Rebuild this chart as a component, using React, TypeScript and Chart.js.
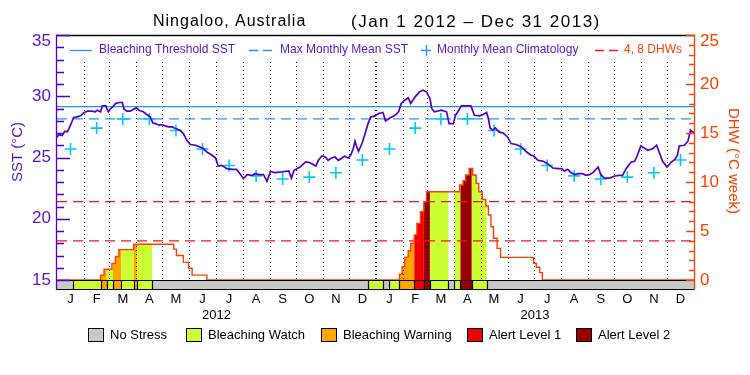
import React, { useEffect, useRef } from 'react';
import { Chart, registerables } from 'chart.js';

Chart.register(...registerables);

// ---------- DATA ----------
const TITLE_PLACE = 'Ningaloo, Australia';
const TITLE_RANGE = '(Jan 1 2012 – Dec 31 2013)';
const START_YEAR = 2012;
const YEAR_LABELS = ['2012', '2013'];
const MONTH_LABELS = ['J', 'F', 'M', 'A', 'M', 'J', 'J', 'A', 'S', 'O', 'N', 'D'];
const SST_TICKS = [15, 20, 25, 30, 35];
const DHW_TICKS = [0, 5, 10, 15, 20, 25];

// SST (day offset from Jan 1 2012, deg C)
const SST_DAY = [
  0, 2, 6, 9, 12, 14, 17, 19, 22, 27, 31, 35, 40, 44, 46, 50, 52, 56, 57, 59, 61, 64, 67, 71, 75, 77, 80, 84, 88, 91,
  94, 97, 99, 103, 107, 110, 113, 117, 120, 124, 128, 132, 136, 141, 145, 149, 153, 159, 164, 168, 172, 178, 182, 185,
  189, 195, 201, 206, 210, 214, 218, 224, 227, 232, 237, 241, 245, 250, 258, 266, 269, 272, 279, 285, 288, 292, 297,
  300, 304, 308, 311, 315, 319, 323, 327, 330, 334, 337, 340, 342, 344, 346, 350, 353, 357, 360, 365, 369, 374, 377,
  382, 388, 392, 395, 399, 403, 406, 411, 416, 420, 424, 428, 430, 433, 441, 447, 450, 455, 457, 460, 464, 470, 475,
  479, 485, 489, 493, 495, 497, 500, 503, 507, 512, 517, 521, 527, 533, 539, 544, 547, 552, 558, 563, 569, 575, 579,
  582, 586, 590, 594, 598, 603, 607, 611, 615, 621, 624, 628, 634, 640, 645, 649, 653, 659, 663, 666, 670, 674, 678,
  684, 688, 691, 695, 700, 705, 709, 712, 714, 720, 724, 727, 729, 731,
];
const SST_VAL = [
  26.65, 26.87, 26.8, 27.14, 27.1, 27.4, 27.9, 28.27, 28.3, 28.4, 28.67, 28.78, 28.78, 28.73, 28.86, 28.73, 29.21, 29.21,
  29.0, 28.73, 28.94, 29.13, 29.4, 29.49, 29.49, 28.94, 28.78, 28.78, 28.94, 29.05, 28.86, 28.78, 28.73, 28.51, 28.31,
  27.82, 27.77, 27.64, 27.69, 27.58, 27.5, 27.5, 27.37, 27.23, 26.96, 26.4, 26.06, 26.0, 25.86, 25.73, 25.45, 25.18,
  24.96, 24.3, 24.36, 24.09, 24.03, 24.03, 23.68, 23.27, 23.6, 23.54, 23.68, 23.6, 23.6, 23.05, 23.87, 23.76, 23.82,
  23.9, 23.32, 23.95, 24.22, 24.63, 24.63, 24.5, 24.3, 24.77, 25.12, 25.04, 24.77, 24.96, 25.04, 24.77, 24.96, 25.1,
  24.96, 25.18, 25.73, 26.33, 25.86, 25.5, 26.14, 26.82, 27.77, 28.31, 28.4, 28.59, 28.67, 27.99, 28.23, 28.45, 28.73,
  29.41, 29.68, 29.87, 29.41, 29.95, 30.36, 30.5, 30.36, 29.82, 29.0, 28.73, 28.86, 28.73, 27.77, 27.77, 28.4, 28.73,
  29.21, 29.21, 29.21, 28.45, 28.4, 28.51, 28.67, 28.18, 27.41, 27.23, 27.41, 27.09, 27.0, 26.68, 26.14, 26.06, 25.86,
  25.45, 25.18, 25.12, 24.77, 24.69, 24.5, 24.14, 24.09, 24.09, 23.9, 24.03, 23.76, 23.6, 23.68, 23.68, 23.54, 23.6,
  23.76, 24.22, 23.6, 23.32, 23.32, 23.49, 23.54, 23.54, 24.09, 24.63, 24.69, 25.18, 25.94, 25.78, 25.59, 25.73, 26.0,
  25.45, 24.69, 24.22, 24.63, 24.85, 25.18, 25.94, 26.0, 26.33, 27.23, 27.09, 27.04,
];

// Monthly mean climatology (Jan..Dec)
const CLIM_MONTHLY = [25.7, 27.4, 28.15, 28.15, 27.2, 25.7, 24.35, 23.5, 23.25, 23.4, 23.75, 24.8];
const MMM = 28.15;
const BLEACHING_THRESHOLD = 29.15;

// Degree heating weeks (step series, each value holds until the next day)
const DHW_DAY = [
  0, 50, 54, 63, 67, 71, 88, 134, 137, 145, 151, 155, 172,
  393, 396, 399, 403, 406, 410, 413, 417, 421, 424, 462, 466, 469, 473, 477, 481, 484, 488, 492, 495, 498, 501, 505,
  509, 547, 550, 554, 557, 731,
];
const DHW_VAL = [
  0, 0.5, 1.1, 1.7, 2.4, 3.1, 3.65, 3.15, 2.5, 1.8, 1.2, 0.5, 0,
  0.58, 1.36, 2.31, 2.99, 3.74, 4.59, 5.78, 6.97, 7.99, 9.01, 9.69, 10.13, 10.71, 11.39, 10.71, 9.86, 9.01, 8.23, 7.55,
  6.63, 5.44, 4.26, 3.23, 2.31, 1.7, 1.3, 0.75, 0, 0,
];
const DHW_LEVELS = [4, 8];

// Stress level periods (start day, level 0..4)
const STRESS_START = [0, 18, 50, 57, 64, 74, 88, 92, 109, 357, 374, 381, 393, 410, 421, 428, 449, 456, 463, 476, 493];
const STRESS_LEVEL = [0, 1, 2, 1, 2, 1, 2, 1, 0, 1, 0, 1, 2, 3, 4, 1, 0, 1, 4, 1, 0];
const STRESS_NAMES = ['No Stress', 'Bleaching Watch', 'Bleaching Warning', 'Alert Level 1', 'Alert Level 2'];

// ---------- STYLE ----------
const FONT = '"Liberation Sans", Arial, sans-serif';
const STRESS_COLORS = ['#c8c8c8', '#ccff33', '#ffa500', '#f00000', '#990000'];
const PURPLE = '#5200c8';
const PURPLE_TEXT = '#5a14c8';
const BLUE = '#1e96ff';
const CYAN = '#00c8ff';
const ORANGE = '#ff4000';
const RED_DASH = '#f01818';

const dayOf = (y: number, m: number, d: number) =>
  Math.round((Date.UTC(y, m, d) - Date.UTC(START_YEAR, 0, 1)) / 86400000);
const TOTAL_DAYS = dayOf(START_YEAR + YEAR_LABELS.length, 0, 1);
const MONTH_STARTS: number[] = [];
for (let yi = 0; yi < YEAR_LABELS.length; yi++)
  for (let m = 0; m < 12; m++) MONTH_STARTS.push(dayOf(START_YEAR + yi, m, 1));
MONTH_STARTS.push(TOTAL_DAYS);

const SST_MIN = 14.184;
const SST_MAX = 35;
const DHW_MAX = 25;
const DHW_MIN = (SST_MIN - 15) * 1.25;

const setSpacing = (ctx: any, v: string) => {
  if ('letterSpacing' in ctx) ctx.letterSpacing = v;
};

const bleachPlugin = {
  id: 'bleach',
  beforeDatasetsDraw(chart: any) {
    const { ctx, chartArea: a, scales } = chart;
    const x = scales.x, yS = scales.yS, yD = scales.yD;
    const base = yD.getPixelForValue(0);
    // coloured fill under DHW by stress level
    for (let i = 0; i < STRESS_START.length; i++) {
      const lvl = STRESS_LEVEL[i];
      if (lvl === 0) continue;
      const end = i + 1 < STRESS_START.length ? STRESS_START[i + 1] : TOTAL_DAYS;
      const x0 = x.getPixelForValue(STRESS_START[i]);
      const x1 = x.getPixelForValue(end);
      ctx.save();
      ctx.beginPath();
      ctx.rect(x0, a.top, x1 - x0, base - a.top);
      ctx.clip();
      ctx.beginPath();
      ctx.moveTo(x.getPixelForValue(DHW_DAY[0]), base);
      for (let k = 0; k < DHW_DAY.length; k++) {
        const px = x.getPixelForValue(DHW_DAY[k]);
        if (k > 0) ctx.lineTo(px, yD.getPixelForValue(DHW_VAL[k - 1]));
        ctx.lineTo(px, yD.getPixelForValue(DHW_VAL[k]));
      }
      ctx.lineTo(x.getPixelForValue(DHW_DAY[DHW_DAY.length - 1]), base);
      ctx.closePath();
      ctx.fillStyle = STRESS_COLORS[lvl];
      ctx.fill();
      ctx.restore();
    }
    // dotted month separators
    ctx.save();
    ctx.strokeStyle = '#000';
    ctx.lineWidth = 1;
    ctx.setLineDash([1, 3]);
    const seps = MONTH_STARTS.slice(1, -1).concat([dayOf(START_YEAR, 11, 31)]);
    for (const d of seps) {
      const px = Math.round(x.getPixelForValue(d)) + 0.5;
      ctx.beginPath();
      ctx.moveTo(px, a.top + 27);
      ctx.lineTo(px, yS.getPixelForValue(15));
      ctx.stroke();
    }
    ctx.restore();
  },
  afterDatasetsDraw(chart: any) {
    const { ctx, chartArea: a, scales } = chart;
    const x = scales.x, yS = scales.yS, yD = scales.yD;
    const barTop = Math.round(yS.getPixelForValue(15));
    const barBot = Math.round(a.bottom);
    ctx.save();
    // stress bar
    for (let i = 0; i < STRESS_START.length; i++) {
      const end = i + 1 < STRESS_START.length ? STRESS_START[i + 1] : TOTAL_DAYS;
      const x0 = Math.round(x.getPixelForValue(STRESS_START[i]));
      const x1 = Math.round(x.getPixelForValue(end));
      ctx.fillStyle = STRESS_COLORS[STRESS_LEVEL[i]];
      ctx.fillRect(x0, barTop, x1 - x0, barBot - barTop);
    }
    ctx.strokeStyle = '#000';
    ctx.lineWidth = 1.2;
    ctx.beginPath();
    ctx.moveTo(a.left, barTop + 0.5);
    ctx.lineTo(a.right, barTop + 0.5);
    ctx.moveTo(a.left, barBot - 0.5);
    ctx.lineTo(a.right, barBot - 0.5);
    for (let i = 1; i < STRESS_START.length; i++) {
      const bx = Math.round(x.getPixelForValue(STRESS_START[i])) + 0.5;
      ctx.moveTo(bx, barTop);
      ctx.lineTo(bx, barBot);
    }
    ctx.stroke();

    // frame
    ctx.lineWidth = 1.3;
    ctx.strokeStyle = '#000';
    ctx.beginPath();
    ctx.moveTo(a.left - 1, a.top + 0.5);
    ctx.lineTo(a.right + 1, a.top + 0.5);
    ctx.stroke();
    // left axis
    ctx.strokeStyle = PURPLE;
    ctx.lineWidth = 1.3;
    ctx.beginPath();
    ctx.moveTo(a.left - 0.5, a.top);
    ctx.lineTo(a.left - 0.5, a.bottom);
    for (let v = 15; v <= 35; v++) {
      const py = Math.round(yS.getPixelForValue(v)) + 0.5;
      const len = v % 5 === 0 ? 13 : 7;
      ctx.moveTo(a.left - 0.5, py);
      ctx.lineTo(a.left + len, py);
    }
    ctx.stroke();
    // right axis
    ctx.strokeStyle = ORANGE;
    ctx.beginPath();
    ctx.moveTo(a.right + 0.5, a.top);
    ctx.lineTo(a.right + 0.5, a.bottom);
    for (let v = 0; v <= 25; v++) {
      const py = Math.round(yD.getPixelForValue(v)) + 0.5;
      const len = v % 5 === 0 ? 8 : 5;
      ctx.moveTo(a.right + 0.5, py);
      ctx.lineTo(a.right - len, py);
    }
    ctx.stroke();

    // tick labels
    ctx.font = `17px ${FONT}`;
    ctx.textBaseline = 'middle';
    ctx.fillStyle = PURPLE_TEXT;
    ctx.textAlign = 'right';
    for (const v of SST_TICKS) {
      const py = Math.max(yS.getPixelForValue(v), a.top + 6);
      ctx.fillText(String(v), a.left - 6, py);
    }
    ctx.fillStyle = ORANGE;
    ctx.textAlign = 'left';
    for (const v of DHW_TICKS) {
      const py = Math.max(yD.getPixelForValue(v), a.top + 6);
      ctx.fillText(String(v), a.right + 6, py);
    }
    // axis titles
    ctx.font = `15px ${FONT}`;
    ctx.textAlign = 'center';
    ctx.fillStyle = PURPLE_TEXT;
    ctx.save();
    ctx.translate(18, 152);
    ctx.rotate(-Math.PI / 2);
    ctx.fillText('SST (°C)', 0, 0);
    ctx.restore();
    ctx.fillStyle = ORANGE;
    ctx.save();
    ctx.translate(733, 161);
    ctx.rotate(Math.PI / 2);
    ctx.fillText('DHW (°C week)', 0, 0);
    ctx.restore();

    // month & year labels
    ctx.fillStyle = '#000';
    ctx.font = `13px ${FONT}`;
    for (let i = 0; i < MONTH_STARTS.length - 1; i++) {
      const mid = (MONTH_STARTS[i] + MONTH_STARTS[i + 1]) / 2;
      ctx.fillText(MONTH_LABELS[i % 12], x.getPixelForValue(mid), 299);
    }
    for (let yi = 0; yi < YEAR_LABELS.length; yi++) {
      const mid = (MONTH_STARTS[yi * 12] + MONTH_STARTS[yi * 12 + 12]) / 2;
      ctx.fillText(YEAR_LABELS[yi], x.getPixelForValue(mid), 315);
    }

    // title
    ctx.textAlign = 'left';
    ctx.font = `16px ${FONT}`;
    setSpacing(ctx, '1px');
    ctx.fillText(TITLE_PLACE, 153, 22);
    ctx.font = `17px ${FONT}`;
    setSpacing(ctx, '1.5px');
    ctx.fillText(TITLE_RANGE, 351, 22);
    setSpacing(ctx, '0px');

    // top legend
    const ly = 50;
    ctx.font = `12px ${FONT}`;
    ctx.lineWidth = 1.3;
    ctx.strokeStyle = BLUE;
    ctx.beginPath();
    ctx.moveTo(70, ly + 0.5);
    ctx.lineTo(92, ly + 0.5);
    ctx.stroke();
    ctx.fillStyle = PURPLE_TEXT;
    ctx.fillText('Bleaching Threshold SST', 99, ly);
    ctx.setLineDash([9, 5]);
    ctx.beginPath();
    ctx.moveTo(249, ly + 0.5);
    ctx.lineTo(274, ly + 0.5);
    ctx.stroke();
    ctx.fillText('Max Monthly Mean SST', 280, ly);
    ctx.setLineDash([]);
    ctx.strokeStyle = BLUE;
    ctx.beginPath();
    ctx.moveTo(421, ly + 0.5);
    ctx.lineTo(431, ly + 0.5);
    ctx.moveTo(426.5, ly - 5);
    ctx.lineTo(426.5, ly + 6);
    ctx.stroke();
    ctx.fillText('Monthly Mean Climatology', 437, ly);
    ctx.strokeStyle = RED_DASH;
    ctx.setLineDash([9, 5]);
    ctx.beginPath();
    ctx.moveTo(595, ly + 0.5);
    ctx.lineTo(619, ly + 0.5);
    ctx.stroke();
    ctx.setLineDash([]);
    ctx.fillStyle = ORANGE;
    ctx.fillText('4, 8 DHWs', 624, ly);

    // bottom legend
    const boxX = [88, 186, 321, 467, 576];
    ctx.font = `13px ${FONT}`;
    ctx.lineWidth = 1;
    ctx.strokeStyle = '#000';
    for (let i = 0; i < STRESS_NAMES.length; i++) {
      ctx.fillStyle = STRESS_COLORS[i];
      ctx.fillRect(boxX[i], 328, 16, 14);
      ctx.strokeRect(boxX[i] + 0.5, 328.5, 15, 13);
      ctx.fillStyle = '#000';
      ctx.fillText(STRESS_NAMES[i], boxX[i] + 22, 335);
    }
    ctx.restore();
  },
};

export default function App() {
  const ref = useRef<HTMLCanvasElement | null>(null);
  useEffect(() => {
    if (!ref.current) return;
    const pts = (xs: number[], ys: number[]) => xs.map((d, i) => ({ x: d, y: ys[i] }));
    const climPts: { x: number; y: number }[] = [];
    for (let i = 0; i < MONTH_STARTS.length - 1; i++) {
      climPts.push({ x: (MONTH_STARTS[i] + MONTH_STARTS[i + 1]) / 2, y: CLIM_MONTHLY[i % 12] });
    }
    const hline = (v: number) => [{ x: 0, y: v }, { x: TOTAL_DAYS, y: v }];
    const chart = new Chart(ref.current, {
      type: 'line',
      data: {
        datasets: [
          { label: 'SST', data: pts(SST_DAY, SST_VAL), yAxisID: 'yS', borderColor: PURPLE, borderWidth: 1.7, pointRadius: 0, tension: 0 },
          { label: 'Monthly Mean Climatology', data: climPts, yAxisID: 'yS', showLine: false, pointStyle: 'cross', pointRadius: 6, pointBorderColor: CYAN, pointBorderWidth: 1.6, borderColor: CYAN },
          { label: 'Bleaching Threshold SST', data: hline(BLEACHING_THRESHOLD), yAxisID: 'yS', borderColor: BLUE, borderWidth: 1.3, pointRadius: 0 },
          { label: 'Max Monthly Mean SST', data: hline(MMM), yAxisID: 'yS', borderColor: BLUE, borderWidth: 1.3, borderDash: [10, 6], pointRadius: 0 },
          { label: 'DHW', data: pts(DHW_DAY, DHW_VAL), yAxisID: 'yD', borderColor: ORANGE, borderWidth: 1.4, stepped: 'before', pointRadius: 0 },
          ...DHW_LEVELS.map((v) => ({ label: `${v} DHW`, data: hline(v), yAxisID: 'yD', borderColor: RED_DASH, borderWidth: 1.3, borderDash: [10, 6], pointRadius: 0 })),
        ] as any,
      },
      options: {
        responsive: false,
        animation: false,
        events: [],
        layout: { padding: { left: 57, right: 56, top: 35, bottom: 85 } },
        scales: {
          x: { type: 'linear', min: 0, max: TOTAL_DAYS, display: false },
          yS: { type: 'linear', position: 'left', min: SST_MIN, max: SST_MAX, display: false },
          yD: { type: 'linear', position: 'right', min: DHW_MIN, max: DHW_MAX, display: false },
        },
        plugins: { legend: { display: false }, tooltip: { enabled: false }, title: { display: false } },
      },
      plugins: [bleachPlugin],
    });
    return () => chart.destroy();
  }, []);
  return (
    <div style={{ position: 'fixed', left: 0, top: 0, width: 750, height: 375, background: '#fff' }}>
      <canvas ref={ref} width={750} height={375} style={{ display: 'block' }} />
    </div>
  );
}
